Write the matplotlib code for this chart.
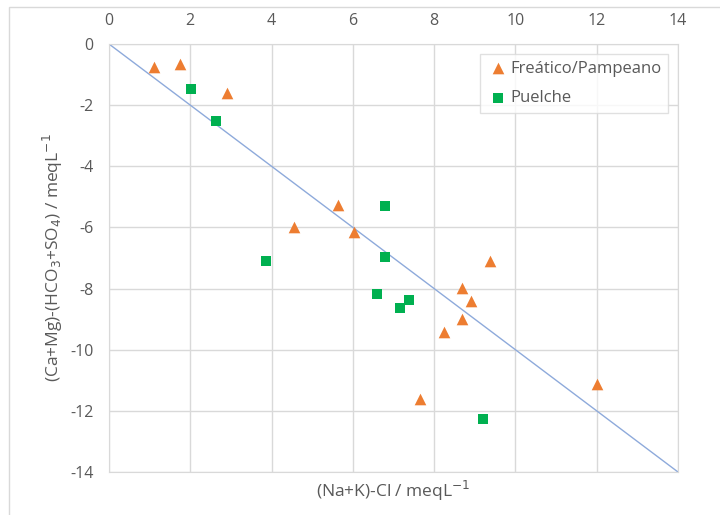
import matplotlib.pyplot as plt
from matplotlib.patches import Rectangle

# Freático/Pampeano samples
freatico_x = [1.11, 1.75, 2.90, 4.55, 5.63, 6.03, 8.68, 9.37, 8.90, 8.68, 8.24, 7.65, 12.0]
freatico_y = [-0.75, -0.65, -1.60, -5.99, -5.27, -6.15, -7.98, -7.10, -8.41, -9.00, -9.42, -11.60, -11.12]

# Puelche samples
puelche_x = [2.02, 2.63, 3.86, 6.79, 6.79, 6.59, 7.38, 7.16, 9.20]
puelche_y = [-1.47, -2.52, -7.10, -5.30, -6.97, -8.18, -8.37, -8.64, -12.27]

# 1:1 reference line
line_x = [0, 14]
line_y = [0, -14]

xticks = [0, 2, 4, 6, 8, 10, 12, 14]
yticks = [0, -2, -4, -6, -8, -10, -12, -14]

plt.rcParams['font.family'] = ['Open Sans', 'DejaVu Sans']
plt.rcParams['axes.unicode_minus'] = False
txt = '#595959'
grid = '#d9d9d9'

fig = plt.figure(figsize=(7.2, 5.15), dpi=100)
# outer chart frame
fig.patches.append(Rectangle((9 / 720, -0.1), 1.2, 1 - 7 / 515 + 0.1, transform=fig.transFigure,
                             fill=False, edgecolor=grid, linewidth=1))
ax = fig.add_axes([109 / 720, 43 / 515, 569 / 720, 428 / 515])

ax.plot(line_x, line_y, color='#8eaadb', linewidth=1, zorder=2)
ax.scatter(freatico_x, freatico_y, marker='^', s=70, color='#ed7d31', linewidths=0,
           label='Freático/Pampeano', zorder=3)
ax.scatter(puelche_x, puelche_y, marker='s', s=60, color='#00b050', linewidths=0,
           label='Puelche', zorder=3)

ax.set_xlim(0, 14)
ax.set_ylim(-14, 0)
ax.set_xticks(xticks)
ax.set_yticks(yticks)
ax.xaxis.tick_top()
ax.tick_params(length=0, labelsize=11.5, colors=txt, pad=11)
ax.grid(True, color=grid, linewidth=1)
ax.set_axisbelow(True)
for s in ax.spines.values():
    s.set_color(grid)

ax.set_xlabel('(Na+K)-Cl / meqL$^{-1}$', fontsize=12.5, color=txt, labelpad=5)
ax.set_ylabel('(Ca+Mg)-(HCO$_3$+SO$_4$) / meqL$^{-1}$', fontsize=12.5, color=txt, labelpad=4)

leg = ax.legend(loc='upper right', bbox_to_anchor=(0.9824, 0.9766), fontsize=12,
                frameon=True, fancybox=False, edgecolor=grid, handletextpad=0.1,
                labelspacing=0.8, borderpad=0.4, handlelength=1.3, scatterpoints=1,
                borderaxespad=0)
leg.get_frame().set_linewidth(1)
for t in leg.get_texts():
    t.set_color(txt)

fig.savefig('out.png', dpi=100)
